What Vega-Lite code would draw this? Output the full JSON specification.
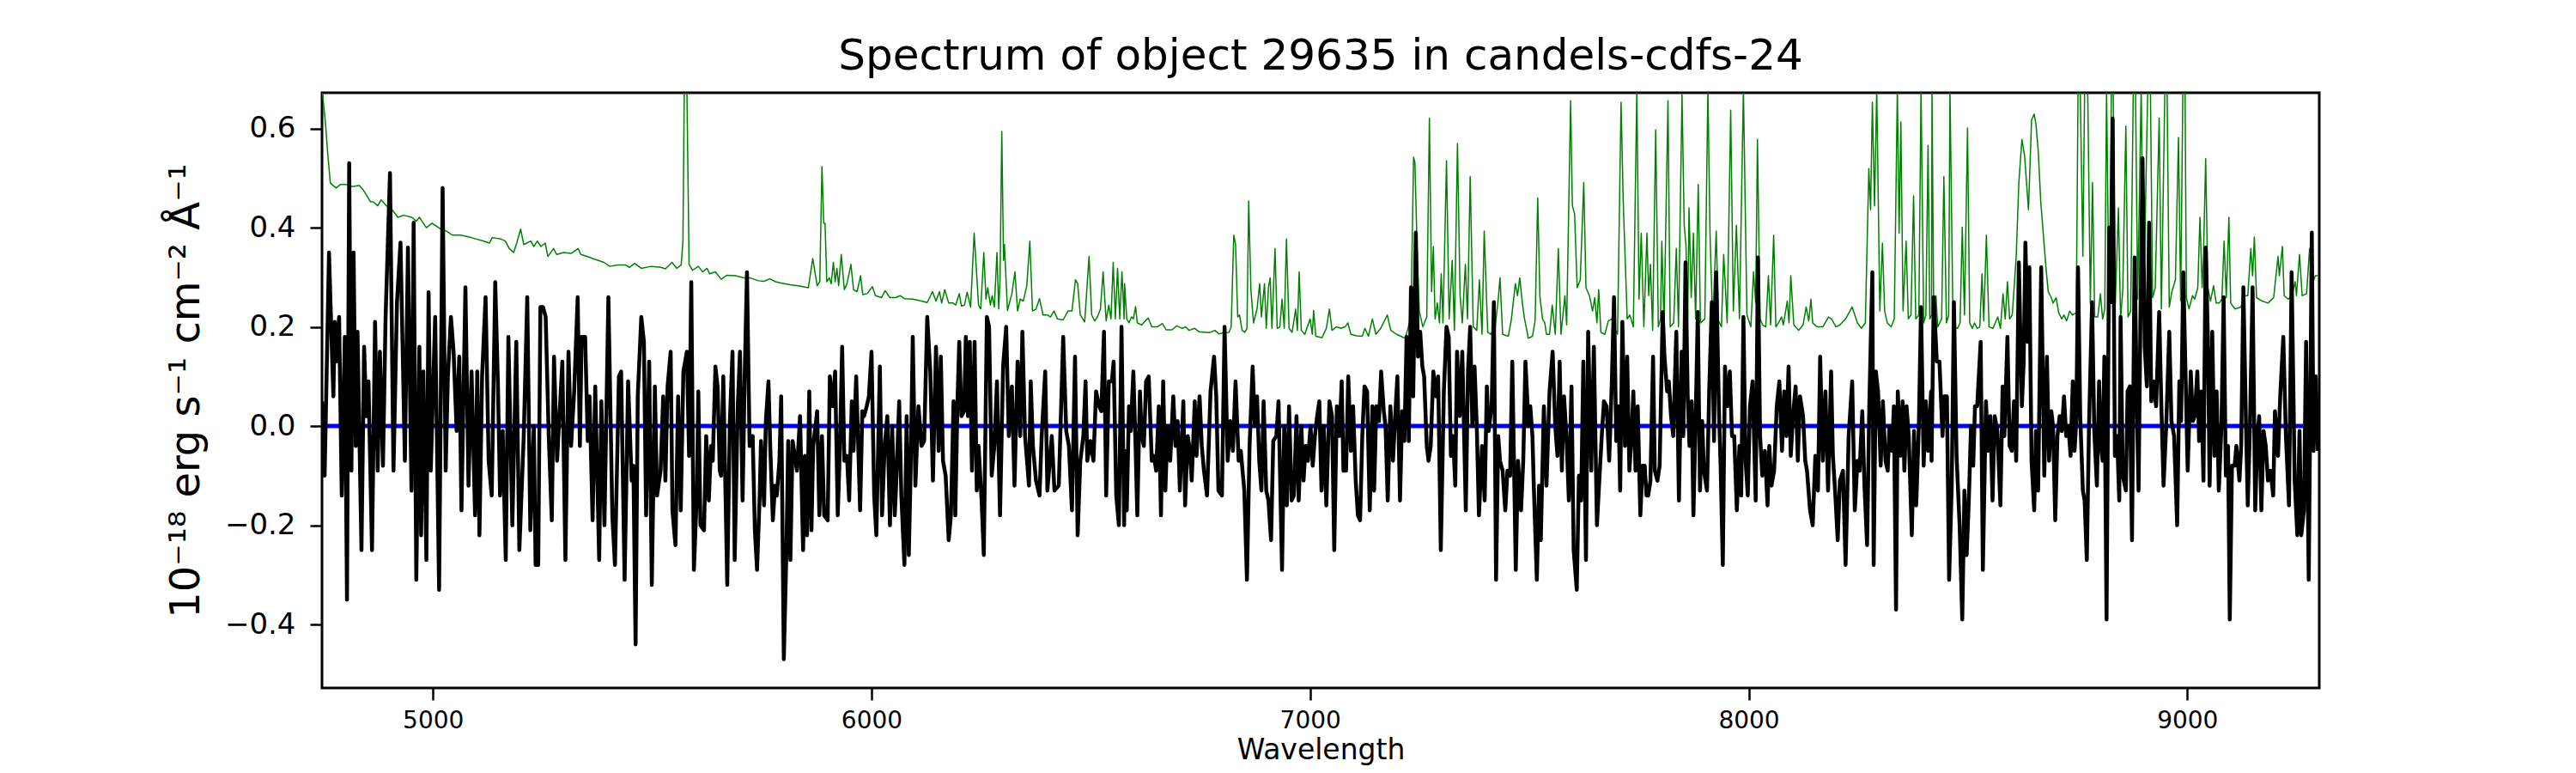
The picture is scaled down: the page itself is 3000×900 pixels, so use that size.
{
  "$schema": "https://vega.github.io/schema/vega-lite/v6.json",
  "width": 2326,
  "height": 693,
  "autosize": "none",
  "padding": {"left": 375, "top": 108, "right": 299, "bottom": 99},
  "background": "white",
  "title": {
    "text": "Spectrum of object 29635 in candels-cdfs-24",
    "fontSize": 50,
    "fontWeight": "normal",
    "font": "DejaVu Sans",
    "color": "black",
    "baseline": "alphabetic",
    "offset": -23
  },
  "datasets": {
    "zero": [{"w": 4747, "f": 0}, {"w": 9264, "f": 0}],
    "model": [
      {"w":4747,"f":0.68},{"w":4755,"f":0.61},{"w":4760,"f":0.55},{"w":4766,"f":0.49},{"w":4779,"f":0.48},{"w":4789,"f":0.487},{"w":4802,"f":0.487},{"w":4815,"f":0.483},{"w":4832,"f":0.485},{"w":4841,"f":0.476},{"w":4858,"f":0.452},{"w":4864,"f":0.452},{"w":4874,"f":0.444},{"w":4882,"f":0.456},{"w":4894,"f":0.444},{"w":4907,"f":0.436},{"w":4920,"f":0.421},{"w":4933,"f":0.425},{"w":4952,"f":0.421},{"w":4962,"f":0.413},{"w":4969,"f":0.421},{"w":4985,"f":0.40},{"w":4998,"f":0.409},{"w":5018,"f":0.397},{"w":5031,"f":0.393},{"w":5044,"f":0.385},{"w":5063,"f":0.385},{"w":5083,"f":0.381},{"w":5099,"f":0.377},{"w":5116,"f":0.373},{"w":5129,"f":0.369},{"w":5135,"f":0.38},{"w":5155,"f":0.377},{"w":5165,"f":0.373},{"w":5174,"f":0.358},{"w":5184,"f":0.35},{"w":5191,"f":0.369},{"w":5200,"f":0.397},{"w":5207,"f":0.366},{"w":5223,"f":0.373},{"w":5230,"f":0.362},{"w":5238,"f":0.373},{"w":5246,"f":0.362},{"w":5256,"f":0.369},{"w":5262,"f":0.342},{"w":5275,"f":0.358},{"w":5282,"f":0.346},{"w":5298,"f":0.35},{"w":5315,"f":0.348},{"w":5331,"f":0.358},{"w":5337,"f":0.346},{"w":5351,"f":0.342},{"w":5370,"f":0.336},{"w":5390,"f":0.33},{"w":5403,"f":0.322},{"w":5422,"f":0.325},{"w":5439,"f":0.325},{"w":5448,"f":0.32},{"w":5460,"f":0.328},{"w":5475,"f":0.318},{"w":5497,"f":0.322},{"w":5520,"f":0.32},{"w":5530,"f":0.317},{"w":5545,"f":0.33},{"w":5556,"f":0.318},{"w":5566,"f":0.325},{"w":5570,"f":0.373},{"w":5573,"f":0.68},{"w":5579,"f":0.68},{"w":5584,"f":0.326},{"w":5592,"f":0.314},{"w":5605,"f":0.322},{"w":5615,"f":0.311},{"w":5625,"f":0.318},{"w":5631,"f":0.307},{"w":5644,"f":0.311},{"w":5657,"f":0.296},
      {"w":5670,"f":0.304},{"w":5690,"f":0.303},{"w":5709,"f":0.299},{"w":5722,"f":0.299},{"w":5742,"f":0.293},{"w":5755,"f":0.292},{"w":5768,"f":0.297},{"w":5781,"f":0.291},{"w":5791,"f":0.289},{"w":5814,"f":0.285},{"w":5833,"f":0.283},{"w":5856,"f":0.279},{"w":5866,"f":0.338},{"w":5876,"f":0.283},{"w":5882,"f":0.291},{"w":5887,"f":0.523},{"w":5891,"f":0.409},{"w":5894,"f":0.409},{"w":5898,"f":0.291},{"w":5904,"f":0.299},{"w":5908,"f":0.287},{"w":5913,"f":0.33},{"w":5917,"f":0.291},{"w":5921,"f":0.318},{"w":5925,"f":0.283},{"w":5931,"f":0.346},{"w":5938,"f":0.275},{"w":5944,"f":0.287},{"w":5953,"f":0.326},{"w":5959,"f":0.275},{"w":5967,"f":0.271},{"w":5975,"f":0.303},{"w":5980,"f":0.265},{"w":5990,"f":0.267},{"w":6002,"f":0.281},{"w":6009,"f":0.263},{"w":6023,"f":0.259},{"w":6031,"f":0.273},{"w":6042,"f":0.259},{"w":6055,"f":0.259},{"w":6065,"f":0.263},{"w":6075,"f":0.257},{"w":6094,"f":0.256},{"w":6114,"f":0.252},{"w":6127,"f":0.249},{"w":6139,"f":0.271},{"w":6147,"f":0.252},{"w":6155,"f":0.271},{"w":6160,"f":0.248},{"w":6167,"f":0.275},{"w":6176,"f":0.248},{"w":6186,"f":0.248},{"w":6192,"f":0.244},{"w":6200,"f":0.267},{"w":6205,"f":0.242},{"w":6212,"f":0.244},{"w":6218,"f":0.27},{"w":6226,"f":0.24},{"w":6234,"f":0.389},{"w":6244,"f":0.244},{"w":6249,"f":0.236},{"w":6256,"f":0.35},{"w":6261,"f":0.256},{"w":6265,"f":0.279},{"w":6271,"f":0.244},{"w":6275,"f":0.263},{"w":6280,"f":0.24},{"w":6286,"f":0.35},{"w":6290,"f":0.236},{"w":6293,"f":0.295},{"w":6297,"f":0.594},{"w":6301,"f":0.334},{"w":6303,"f":0.366},{"w":6310,"f":0.233},{"w":6320,"f":0.267},{"w":6327,"f":0.311},{"w":6333,"f":0.232},{"w":6339,"f":0.256},{"w":6346,"f":0.252},{"w":6354,"f":0.283},{"w":6361,"f":0.373},{"w":6367,"f":0.232},{"w":6375,"f":0.236},{"w":6383,"f":0.257},{"w":6391,"f":0.224},{"w":6401,"f":0.224},{"w":6408,"f":0.22},{"w":6416,"f":0.232},{"w":6424,"f":0.216},{"w":6437,"f":0.214},{"w":6448,"f":0.232},{"w":6457,"f":0.232},{"w":6465,"f":0.295},{"w":6470,"f":0.287},{"w":6476,"f":0.224},{"w":6486,"f":0.21},{"w":6496,"f":0.342},{"w":6502,"f":0.224},{"w":6509,"f":0.212},{"w":6515,"f":0.22},{"w":6522,"f":0.236},{"w":6528,"f":0.311},{"w":6535,"f":0.212},{"w":6541,"f":0.244},{"w":6546,"f":0.216},{"w":6551,"f":0.33},{"w":6556,"f":0.216},{"w":6561,"f":0.318},{"w":6566,"f":0.216},{"w":6571,"f":0.311},{"w":6576,"f":0.216},
      {"w":6577,"f":0.287},{"w":6582,"f":0.216},{"w":6587,"f":0.208},{"w":6593,"f":0.22},{"w":6597,"f":0.216},{"w":6602,"f":0.241},{"w":6606,"f":0.208},{"w":6616,"f":0.204},{"w":6624,"f":0.212},{"w":6631,"f":0.218},{"w":6639,"f":0.2},{"w":6652,"f":0.2},{"w":6663,"f":0.207},{"w":6672,"f":0.194},{"w":6685,"f":0.194},{"w":6696,"f":0.202},{"w":6708,"f":0.197},{"w":6716,"f":0.2},{"w":6724,"f":0.193},{"w":6737,"f":0.197},{"w":6747,"f":0.19},{"w":6760,"f":0.189},{"w":6773,"f":0.189},{"w":6783,"f":0.193},{"w":6792,"f":0.186},{"w":6802,"f":0.188},{"w":6815,"f":0.189},{"w":6820,"f":0.2},{"w":6826,"f":0.385},{"w":6830,"f":0.366},{"w":6835,"f":0.22},{"w":6839,"f":0.224},{"w":6845,"f":0.193},{"w":6851,"f":0.189},{"w":6856,"f":0.197},{"w":6860,"f":0.454},{"w":6865,"f":0.275},{"w":6871,"f":0.208},{"w":6879,"f":0.236},{"w":6885,"f":0.287},{"w":6889,"f":0.22},{"w":6896,"f":0.287},{"w":6900,"f":0.197},{"w":6905,"f":0.279},{"w":6909,"f":0.299},{"w":6913,"f":0.197},{"w":6920,"f":0.358},{"w":6925,"f":0.197},{"w":6931,"f":0.2},{"w":6936,"f":0.256},{"w":6941,"f":0.197},{"w":6946,"f":0.377},{"w":6952,"f":0.197},{"w":6959,"f":0.189},{"w":6967,"f":0.236},{"w":6971,"f":0.193},{"w":6975,"f":0.311},{"w":6980,"f":0.193},{"w":6988,"f":0.185},{"w":7000,"f":0.216},{"w":7005,"f":0.185},{"w":7008,"f":0.233},{"w":7013,"f":0.181},{"w":7027,"f":0.178},{"w":7037,"f":0.197},{"w":7044,"f":0.236},{"w":7050,"f":0.193},{"w":7060,"f":0.2},{"w":7070,"f":0.197},{"w":7080,"f":0.2},{"w":7086,"f":0.208},{"w":7093,"f":0.185},{"w":7106,"f":0.182},{"w":7119,"f":0.181},{"w":7125,"f":0.197},{"w":7133,"f":0.181},{"w":7142,"f":0.216},{"w":7150,"f":0.185},{"w":7161,"f":0.197},{"w":7176,"f":0.224},{"w":7184,"f":0.193},{"w":7197,"f":0.185},{"w":7207,"f":0.181},{"w":7217,"f":0.177},{"w":7224,"f":0.2},{"w":7230,"f":0.224},{"w":7236,"f":0.542},{"w":7239,"f":0.531},{"w":7244,"f":0.358},{"w":7249,"f":0.232},{"w":7257,"f":0.2},{"w":7266,"f":0.22},{"w":7272,"f":0.621},{"w":7277,"f":0.271},{"w":7281,"f":0.362},{"w":7285,"f":0.216},{"w":7290,"f":0.248},{"w":7295,"f":0.208},{"w":7299,"f":0.307},{"w":7303,"f":0.208},{"w":7311,"f":0.535},{"w":7317,"f":0.216},{"w":7324,"f":0.334},{"w":7329,"f":0.193},{"w":7336,"f":0.57},{"w":7342,"f":0.263},{"w":7347,"f":0.208},{"w":7354,"f":0.326},{"w":7359,"f":0.216},{"w":7365,"f":0.503},{"w":7372,"f":0.2},{"w":7380,"f":0.193},{"w":7386,"f":0.295},{"w":7392,"f":0.185},{"w":7397,"f":0.393},{"w":7405,"f":0.189},{"w":7412,"f":0.185},{"w":7422,"f":0.2},{"w":7429,"f":0.256},{"w":7433,"f":0.299},{"w":7439,"f":0.185},{"w":7452,"f":0.181},{"w":7459,"f":0.216},{"w":7468,"f":0.287},{"w":7473,"f":0.263},{"w":7478,"f":0.299},{"w":7484,"f":0.248},{"w":7489,"f":0.216},{"w":7496,"f":0.185},
      {"w":7497,"f":0.177},{"w":7507,"f":0.181},{"w":7513,"f":0.212},{"w":7519,"f":0.46},{"w":7524,"f":0.261},{"w":7530,"f":0.216},{"w":7535,"f":0.208},{"w":7539,"f":0.185},{"w":7546,"f":0.185},{"w":7552,"f":0.244},{"w":7559,"f":0.185},{"w":7566,"f":0.358},{"w":7572,"f":0.185},{"w":7581,"f":0.263},{"w":7585,"f":0.204},{"w":7594,"f":0.656},{"w":7598,"f":0.444},{"w":7603,"f":0.428},{"w":7609,"f":0.279},{"w":7616,"f":0.295},{"w":7624,"f":0.491},{"w":7629,"f":0.279},{"w":7637,"f":0.263},{"w":7644,"f":0.232},{"w":7649,"f":0.259},{"w":7654,"f":0.208},{"w":7658,"f":0.275},{"w":7663,"f":0.189},{"w":7672,"f":0.185},{"w":7680,"f":0.212},{"w":7688,"f":0.216},{"w":7693,"f":0.2},{"w":7701,"f":0.185},{"w":7709,"f":0.653},{"w":7714,"f":0.452},{"w":7719,"f":0.322},{"w":7723,"f":0.216},{"w":7729,"f":0.224},{"w":7737,"f":0.2},{"w":7745,"f":0.68},{"w":7750,"f":0.256},{"w":7755,"f":0.389},{"w":7761,"f":0.2},{"w":7768,"f":0.389},{"w":7772,"f":0.263},{"w":7776,"f":0.326},{"w":7781,"f":0.193},{"w":7788,"f":0.597},{"w":7794,"f":0.2},{"w":7799,"f":0.216},{"w":7802,"f":0.373},{"w":7807,"f":0.2},{"w":7816,"f":0.656},{"w":7821,"f":0.2},{"w":7829,"f":0.208},{"w":7835,"f":0.358},{"w":7840,"f":0.2},{"w":7848,"f":0.668},{"w":7853,"f":0.405},{"w":7857,"f":0.366},{"w":7861,"f":0.216},{"w":7864,"f":0.44},{"w":7869,"f":0.259},{"w":7874,"f":0.389},{"w":7879,"f":0.216},{"w":7885,"f":0.487},{"w":7890,"f":0.208},{"w":7900,"f":0.216},{"w":7907,"f":0.68},{"w":7912,"f":0.381},{"w":7918,"f":0.208},{"w":7926,"f":0.393},{"w":7931,"f":0.212},{"w":7938,"f":0.2},{"w":7943,"f":0.346},{"w":7951,"f":0.208},{"w":7959,"f":0.637},{"w":7965,"f":0.232},{"w":7972,"f":0.405},{"w":7979,"f":0.216},{"w":7988,"f":0.68},{"w":7996,"f":0.224},{"w":8005,"f":0.2},{"w":8011,"f":0.311},{"w":8016,"f":0.248},{"w":8020,"f":0.578},{"w":8026,"f":0.216},{"w":8032,"f":0.204},{"w":8039,"f":0.2},{"w":8045,"f":0.303},{"w":8050,"f":0.204},{"w":8057,"f":0.385},{"w":8062,"f":0.2},{"w":8068,"f":0.208},{"w":8075,"f":0.22},{"w":8079,"f":0.204},{"w":8088,"f":0.252},{"w":8092,"f":0.208},{"w":8096,"f":0.303},{"w":8103,"f":0.204},{"w":8114,"f":0.193},{"w":8124,"f":0.204},{"w":8131,"f":0.24},{"w":8137,"f":0.212},{"w":8142,"f":0.256},{"w":8146,"f":0.208},{"w":8156,"f":0.2},{"w":8169,"f":0.2},{"w":8182,"f":0.22},{"w":8189,"f":0.216},{"w":8199,"f":0.2},{"w":8208,"f":0.204},{"w":8221,"f":0.216},{"w":8236,"f":0.24},{"w":8248,"f":0.208},{"w":8257,"f":0.197},{"w":8266,"f":0.208},{"w":8274,"f":0.519},{"w":8278,"f":0.436},{"w":8282,"f":0.653},{"w":8287,"f":0.444},{"w":8292,"f":0.68},{"w":8299,"f":0.232},{"w":8305,"f":0.369},{"w":8310,"f":0.232},{"w":8316,"f":0.208},{"w":8325,"f":0.2},{"w":8332,"f":0.216},{"w":8339,"f":0.68},{"w":8343,"f":0.389},{"w":8347,"f":0.613},{"w":8352,"f":0.232},{"w":8359,"f":0.373},{"w":8364,"f":0.216},{"w":8370,"f":0.224},{"w":8376,"f":0.464},{"w":8381,"f":0.216},{"w":8388,"f":0.224},{"w":8393,"f":0.68},{"w":8399,"f":0.208},{"w":8404,"f":0.224},{"w":8409,"f":0.566},{"w":8413,"f":0.216},{"w":8417,"f":0.224},
      {"w":8418,"f":0.68},{"w":8422,"f":0.216},{"w":8427,"f":0.263},{"w":8431,"f":0.2},{"w":8440,"f":0.216},{"w":8445,"f":0.503},{"w":8451,"f":0.208},{"w":8456,"f":0.224},{"w":8459,"f":0.68},{"w":8466,"f":0.2},{"w":8476,"f":0.197},{"w":8482,"f":0.208},{"w":8487,"f":0.401},{"w":8492,"f":0.224},{"w":8499,"f":0.601},{"w":8504,"f":0.208},{"w":8510,"f":0.197},{"w":8515,"f":0.208},{"w":8521,"f":0.197},{"w":8527,"f":0.2},{"w":8532,"f":0.307},{"w":8536,"f":0.212},{"w":8542,"f":0.385},{"w":8548,"f":0.2},{"w":8557,"f":0.197},{"w":8568,"f":0.22},{"w":8574,"f":0.197},{"w":8580,"f":0.267},{"w":8585,"f":0.216},{"w":8590,"f":0.291},{"w":8595,"f":0.216},{"w":8601,"f":0.224},{"w":8610,"f":0.342},{"w":8616,"f":0.491},{"w":8623,"f":0.578},{"w":8629,"f":0.546},{"w":8638,"f":0.436},{"w":8645,"f":0.617},{"w":8651,"f":0.629},{"w":8655,"f":0.609},{"w":8660,"f":0.558},{"w":8666,"f":0.452},{"w":8673,"f":0.373},{"w":8678,"f":0.318},{"w":8683,"f":0.271},{"w":8690,"f":0.259},{"w":8694,"f":0.248},{"w":8701,"f":0.259},{"w":8707,"f":0.228},{"w":8714,"f":0.216},{"w":8719,"f":0.224},{"w":8725,"f":0.212},{"w":8732,"f":0.232},{"w":8738,"f":0.224},{"w":8747,"f":0.228},{"w":8751,"f":0.68},{"w":8756,"f":0.68},{"w":8762,"f":0.342},{"w":8766,"f":0.68},{"w":8773,"f":0.68},{"w":8779,"f":0.248},{"w":8784,"f":0.491},{"w":8789,"f":0.22},{"w":8796,"f":0.22},{"w":8802,"f":0.267},{"w":8807,"f":0.216},{"w":8812,"f":0.236},{"w":8816,"f":0.68},{"w":8822,"f":0.216},{"w":8827,"f":0.68},{"w":8831,"f":0.68},{"w":8836,"f":0.248},{"w":8843,"f":0.44},{"w":8848,"f":0.216},{"w":8853,"f":0.275},{"w":8860,"f":0.605},{"w":8865,"f":0.22},{"w":8871,"f":0.232},{"w":8877,"f":0.68},{"w":8882,"f":0.68},{"w":8887,"f":0.256},{"w":8895,"f":0.68},{"w":8900,"f":0.279},{"w":8903,"f":0.358},{"w":8910,"f":0.68},{"w":8916,"f":0.68},{"w":8921,"f":0.259},{"w":8927,"f":0.279},{"w":8936,"f":0.621},{"w":8941,"f":0.236},{"w":8949,"f":0.68},{"w":8954,"f":0.68},{"w":8959,"f":0.24},{"w":8965,"f":0.271},{"w":8973,"f":0.295},{"w":8980,"f":0.582},{"w":8985,"f":0.252},{"w":8990,"f":0.68},{"w":8995,"f":0.68},{"w":8998,"f":0.259},{"w":9004,"f":0.236},{"w":9012,"f":0.263},{"w":9017,"f":0.256},{"w":9024,"f":0.279},{"w":9029,"f":0.421},{"w":9034,"f":0.279},{"w":9037,"f":0.342},{"w":9042,"f":0.539},{"w":9047,"f":0.279},{"w":9053,"f":0.252},{"w":9060,"f":0.283},{"w":9066,"f":0.248},{"w":9073,"f":0.248},{"w":9079,"f":0.256},{"w":9084,"f":0.373},{"w":9089,"f":0.259},{"w":9095,"f":0.421},{"w":9099,"f":0.248},{"w":9109,"f":0.236},{"w":9122,"f":0.24},{"w":9132,"f":0.263},{"w":9138,"f":0.263},{"w":9145,"f":0.358},{"w":9149,"f":0.303},{"w":9153,"f":0.381},{"w":9158,"f":0.259},{"w":9171,"f":0.252},{"w":9184,"f":0.248},{"w":9197,"f":0.259},{"w":9207,"f":0.342},{"w":9210,"f":0.303},{"w":9217,"f":0.362},{"w":9221,"f":0.263},{"w":9230,"f":0.256},{"w":9239,"f":0.263},{"w":9246,"f":0.291},{"w":9249,"f":0.263},{"w":9256,"f":0.346},{"w":9262,"f":0.263},{"w":9272,"f":0.267},{"w":9279,"f":0.358},{"w":9284,"f":0.283},{"w":9292,"f":0.303},{"w":9298,"f":0.303}
    ],
    "spec": [
      {"w":4747,"f":0.05},{"w":4753,"f":-0.10},{"w":4763,"f":0.35},{"w":4770,"f":0.14},{"w":4773,"f":0.06},{"w":4776,"f":0.21},{"w":4779,"f":0.13},{"w":4786,"f":0.22},{"w":4792,"f":-0.14},{"w":4799,"f":0.18},{"w":4804,"f":-0.35},{"w":4809,"f":0.53},{"w":4814,"f":-0.09},{"w":4819,"f":0.35},{"w":4824,"f":-0.04},{"w":4828,"f":0.19},{"w":4837,"f":-0.25},{"w":4843,"f":0.16},{"w":4848,"f":0.02},{"w":4853,"f":0.09},{"w":4861,"f":-0.25},{"w":4868,"f":0.21},{"w":4874,"f":-0.09},{"w":4879,"f":0.15},{"w":4886,"f":-0.08},{"w":4892,"f":0.22},{"w":4902,"f":0.51},{"w":4910,"f":-0.09},{"w":4918,"f":0.25},{"w":4926,"f":0.37},{"w":4936,"f":-0.07},{"w":4943,"f":0.36},{"w":4951,"f":-0.13},{"w":4956,"f":0.41},{"w":4962,"f":-0.31},{"w":4969,"f":0.16},{"w":4973,"f":-0.22},{"w":4978,"f":0.11},{"w":4985,"f":-0.27},{"w":4990,"f":0.27},{"w":4995,"f":-0.09},{"w":5005,"f":0.22},{"w":5014,"f":-0.33},{"w":5022,"f":0.48},{"w":5029,"f":-0.09},{"w":5034,"f":0.10},{"w":5041,"f":0.22},{"w":5047,"f":0.15},{"w":5054,"f":-0.01},{"w":5060,"f":0.14},{"w":5065,"f":-0.17},{"w":5074,"f":0.28},{"w":5081,"f":-0.12},{"w":5088,"f":0.11},{"w":5096,"f":-0.18},{"w":5101,"f":0.11},{"w":5106,"f":-0.22},{"w":5112,"f":0.10},{"w":5120,"f":0.26},{"w":5127,"f":-0.07},{"w":5134,"f":-0.14},{"w":5142,"f":0.29},{"w":5148,"f":0.09},{"w":5153,"f":-0.14},{"w":5159,"f":-0.01},{"w":5166,"f":-0.27},{"w":5172,"f":0.18},{"w":5181,"f":-0.20},{"w":5190,"f":0.17},{"w":5197,"f":-0.25},{"w":5207,"f":-0.02},{"w":5215,"f":0.26},{"w":5222,"f":-0.21},{"w":5230,"f":0.00},{"w":5234,"f":-0.28},{"w":5240,"f":-0.28},{"w":5245,"f":0.24},{"w":5251,"f":0.24},{"w":5257,"f":0.22},{"w":5264,"f":-0.02},{"w":5271,"f":-0.19},{"w":5276,"f":0.14},{"w":5283,"f":-0.07},{"w":5295,"f":0.13},{"w":5302,"f":-0.27},{"w":5309,"f":0.15},{"w":5315,"f":-0.04},{"w":5322,"f":0.07},{"w":5330,"f":0.26},{"w":5335,"f":-0.04},{"w":5339,"f":0.18},{"w":5347,"f":0.18},{"w":5353,"f":-0.03},{"w":5357,"f":0.06},{"w":5364,"f":-0.19},{"w":5370,"f":0.08},{"w":5379,"f":-0.27},{"w":5384,"f":0.05},{"w":5391,"f":-0.20},{"w":5400,"f":0.26},{"w":5409,"f":-0.18},{"w":5415,"f":-0.28},{"w":5424,"f":0.10},{"w":5429,"f":0.11},{"w":5437,"f":-0.31},{"w":5445,"f":0.09},{"w":5453,"f":-0.11},{"w":5457,"f":-0.08},{"w":5462,"f":-0.44},{"w":5467,"f":0.06},{"w":5475,"f":0.22},{"w":5481,"f":0.17},{"w":5486,"f":-0.18},{"w":5493,"f":0.13},{"w":5499,"f":-0.32},{"w":5506,"f":0.08},{"w":5511,"f":-0.14},{"w":5519,"f":-0.09},{"w":5525,"f":0.06},{"w":5530,"f":-0.11},{"w":5535,"f":0.08},{"w":5542,"f":0.15},{"w":5546,"f":-0.17},{"w":5553,"f":-0.24},{"w":5559,"f":0.06},{"w":5565,"f":-0.17},{"w":5571,"f":0.11},{"w":5579,"f":0.15},{"w":5584,"f":-0.06},{"w":5589,"f":0.29},{"w":5595,"f":-0.29},{"w":5602,"f":-0.13},{"w":5605,"f":0.07},{"w":5610,"f":-0.20},{"w":5618,"f":-0.21},{"w":5623,"f":-0.02},{"w":5629,"f":-0.15},{"w":5634,"f":-0.04},{"w":5638,"f":-0.07},{"w":5644,"f":0.12},{"w":5649,"f":0.08},{"w":5654,"f":-0.09},
      {"w":5657,"f":-0.10},{"w":5662,"f":0.10},{"w":5671,"f":-0.32},{"w":5677,"f":0.01},{"w":5683,"f":0.15},{"w":5688,"f":-0.27},{"w":5695,"f":0.04},{"w":5700,"f":0.15},{"w":5706,"f":-0.15},{"w":5711,"f":0.11},{"w":5716,"f":0.31},{"w":5722,"f":-0.04},{"w":5729,"f":-0.02},{"w":5734,"f":-0.21},{"w":5739,"f":-0.29},{"w":5745,"f":-0.14},{"w":5748,"f":-0.03},{"w":5755,"f":-0.16},{"w":5759,"f":0.01},{"w":5765,"f":0.09},{"w":5769,"f":-0.04},{"w":5775,"f":-0.19},{"w":5780,"f":-0.12},{"w":5784,"f":-0.14},{"w":5790,"f":-0.07},{"w":5794,"f":0.06},{"w":5800,"f":-0.47},{"w":5806,"f":-0.25},{"w":5810,"f":-0.03},{"w":5815,"f":-0.27},{"w":5820,"f":-0.03},{"w":5825,"f":-0.06},{"w":5830,"f":-0.09},{"w":5837,"f":0.02},{"w":5844,"f":-0.25},{"w":5848,"f":-0.06},{"w":5853,"f":-0.22},{"w":5858,"f":0.07},{"w":5863,"f":-0.21},{"w":5867,"f":-0.04},{"w":5876,"f":0.03},{"w":5881,"f":-0.18},{"w":5887,"f":-0.02},{"w":5892,"f":-0.18},{"w":5900,"f":-0.19},{"w":5905,"f":0.10},{"w":5912,"f":0.04},{"w":5917,"f":0.11},{"w":5923,"f":-0.18},{"w":5928,"f":-0.04},{"w":5933,"f":0.16},{"w":5938,"f":-0.07},{"w":5944,"f":-0.06},{"w":5949,"f":-0.15},{"w":5955,"f":0.05},{"w":5959,"f":-0.05},{"w":5965,"f":0.10},{"w":5974,"f":-0.17},{"w":5979,"f":0.03},{"w":5983,"f":0.02},{"w":5989,"f":0.04},{"w":5994,"f":0.06},{"w":6000,"f":0.15},{"w":6006,"f":-0.14},{"w":6011,"f":-0.22},{"w":6019,"f":0.12},{"w":6024,"f":-0.18},{"w":6030,"f":-0.04},{"w":6036,"f":0.02},{"w":6042,"f":-0.20},{"w":6047,"f":0.00},{"w":6053,"f":-0.18},{"w":6057,"f":-0.10},{"w":6063,"f":0.05},{"w":6068,"f":-0.14},{"w":6075,"f":-0.28},{"w":6080,"f":0.02},{"w":6085,"f":-0.26},{"w":6089,"f":-0.10},{"w":6094,"f":0.18},{"w":6100,"f":-0.12},{"w":6107,"f":0.04},{"w":6114,"f":-0.04},{"w":6120,"f":-0.03},{"w":6127,"f":0.22},{"w":6134,"f":0.11},{"w":6140,"f":-0.11},{"w":6147,"f":0.16},{"w":6153,"f":-0.05},{"w":6158,"f":0.14},{"w":6163,"f":-0.07},{"w":6169,"f":-0.10},{"w":6176,"f":-0.23},{"w":6181,"f":-0.18},{"w":6187,"f":0.05},{"w":6191,"f":-0.18},{"w":6196,"f":0.05},{"w":6200,"f":0.17},{"w":6205,"f":0.02},{"w":6211,"f":0.03},{"w":6215,"f":0.18},{"w":6220,"f":0.02},{"w":6224,"f":0.17},{"w":6229,"f":-0.09},{"w":6235,"f":0.17},{"w":6240,"f":-0.13},{"w":6244,"f":-0.04},{"w":6251,"f":-0.15},{"w":6256,"f":-0.26},{"w":6263,"f":0.22},{"w":6268,"f":0.20},{"w":6274,"f":-0.10},{"w":6280,"f":-0.04},{"w":6286,"f":0.09},{"w":6293,"f":-0.18},{"w":6300,"f":0.12},{"w":6307,"f":0.20},{"w":6313,"f":-0.02},{"w":6320,"f":0.08},{"w":6326,"f":-0.12},{"w":6333,"f":0.13},{"w":6339,"f":-0.02},{"w":6344,"f":0.19},{"w":6350,"f":-0.02},{"w":6359,"f":-0.12},{"w":6363,"f":0.09},{"w":6368,"f":-0.04},{"w":6375,"f":-0.11},{"w":6383,"f":-0.14},{"w":6388,"f":-0.02},{"w":6396,"f":0.11},{"w":6401,"f":-0.13},{"w":6411,"f":-0.02},{"w":6417,"f":-0.13},{"w":6427,"f":-0.12},{"w":6437,"f":0.18},{"w":6444,"f":-0.01},{"w":6450,"f":-0.04},{"w":6457,"f":-0.17},{"w":6464,"f":0.14},{"w":6470,"f":-0.22},{"w":6476,"f":-0.07},{"w":6483,"f":-0.02},{"w":6488,"f":0.09},{"w":6492,"f":-0.07},{"w":6499,"f":-0.03},{"w":6506,"f":-0.07},{"w":6512,"f":0.07},{"w":6519,"f":0.04},{"w":6524,"f":0.03},{"w":6530,"f":0.19},{"w":6535,"f":-0.14},{"w":6541,"f":0.09},{"w":6548,"f":0.09},{"w":6552,"f":0.13},{"w":6558,"f":-0.14},{"w":6564,"f":-0.20},{"w":6570,"f":0.20},{"w":6576,"f":-0.20},
      {"w":6577,"f":-0.05},{"w":6582,"f":-0.17},{"w":6587,"f":0.04},{"w":6591,"f":-0.01},{"w":6597,"f":0.11},{"w":6602,"f":-0.04},{"w":6606,"f":-0.18},{"w":6612,"f":0.07},{"w":6616,"f":-0.02},{"w":6621,"f":-0.04},{"w":6626,"f":0.09},{"w":6632,"f":0.10},{"w":6639,"f":-0.07},{"w":6644,"f":-0.06},{"w":6649,"f":-0.09},{"w":6655,"f":0.04},{"w":6660,"f":-0.18},{"w":6665,"f":0.09},{"w":6670,"f":-0.13},{"w":6675,"f":0.00},{"w":6681,"f":-0.07},{"w":6688,"f":0.06},{"w":6693,"f":-0.04},{"w":6698,"f":0.01},{"w":6703,"f":-0.13},{"w":6711,"f":0.05},{"w":6715,"f":-0.16},{"w":6721,"f":-0.02},{"w":6726,"f":-0.05},{"w":6730,"f":-0.11},{"w":6737,"f":0.05},{"w":6741,"f":-0.06},{"w":6748,"f":0.06},{"w":6753,"f":-0.04},{"w":6758,"f":-0.09},{"w":6765,"f":-0.14},{"w":6773,"f":0.07},{"w":6781,"f":0.14},{"w":6786,"f":0.06},{"w":6791,"f":-0.13},{"w":6799,"f":-0.14},{"w":6805,"f":0.20},{"w":6812,"f":-0.07},{"w":6818,"f":0.01},{"w":6824,"f":-0.05},{"w":6830,"f":0.09},{"w":6837,"f":-0.07},{"w":6842,"f":-0.05},{"w":6850,"f":-0.13},{"w":6856,"f":-0.31},{"w":6862,"f":-0.04},{"w":6869,"f":0.12},{"w":6874,"f":0.00},{"w":6879,"f":0.06},{"w":6884,"f":-0.07},{"w":6889,"f":-0.13},{"w":6894,"f":0.05},{"w":6900,"f":-0.13},{"w":6905,"f":-0.15},{"w":6911,"f":-0.23},{"w":6916,"f":-0.03},{"w":6923,"f":-0.02},{"w":6928,"f":0.05},{"w":6936,"f":-0.29},{"w":6941,"f":0.00},{"w":6947,"f":-0.16},{"w":6952,"f":0.04},{"w":6958,"f":-0.15},{"w":6963,"f":-0.14},{"w":6969,"f":0.02},{"w":6974,"f":-0.15},{"w":6980,"f":0.00},{"w":6985,"f":-0.11},{"w":6990,"f":-0.04},{"w":6995,"f":-0.07},{"w":7001,"f":0.00},{"w":7006,"f":-0.08},{"w":7011,"f":-0.02},{"w":7016,"f":0.02},{"w":7021,"f":0.05},{"w":7026,"f":-0.13},{"w":7031,"f":0.00},{"w":7037,"f":-0.16},{"w":7044,"f":0.05},{"w":7050,"f":0.02},{"w":7055,"f":-0.25},{"w":7061,"f":0.04},{"w":7067,"f":-0.02},{"w":7072,"f":0.09},{"w":7076,"f":-0.09},{"w":7082,"f":-0.09},{"w":7087,"f":0.10},{"w":7093,"f":-0.05},{"w":7098,"f":0.04},{"w":7104,"f":-0.11},{"w":7109,"f":-0.18},{"w":7114,"f":-0.19},{"w":7119,"f":-0.02},{"w":7124,"f":0.08},{"w":7130,"f":0.07},{"w":7136,"f":-0.17},{"w":7142,"f":0.04},{"w":7146,"f":-0.13},{"w":7151,"f":0.04},{"w":7157,"f":0.01},{"w":7162,"f":0.11},{"w":7168,"f":0.03},{"w":7172,"f":0.00},{"w":7177,"f":-0.15},{"w":7183,"f":0.04},{"w":7189,"f":-0.07},{"w":7194,"f":0.02},{"w":7199,"f":0.10},{"w":7205,"f":-0.15},{"w":7210,"f":0.03},{"w":7215,"f":-0.03},{"w":7220,"f":0.18},{"w":7225,"f":-0.03},{"w":7230,"f":0.28},{"w":7235,"f":0.06},{"w":7241,"f":0.39},{"w":7246,"f":0.14},{"w":7251,"f":0.19},{"w":7256,"f":0.12},{"w":7260,"f":0.10},{"w":7266,"f":-0.04},{"w":7270,"f":-0.07},{"w":7275,"f":-0.04},{"w":7281,"f":0.11},{"w":7287,"f":0.06},{"w":7292,"f":0.10},{"w":7298,"f":-0.25},{"w":7305,"f":0.07},{"w":7311,"f":0.20},{"w":7316,"f":0.18},{"w":7321,"f":-0.06},{"w":7326,"f":-0.02},{"w":7331,"f":-0.12},{"w":7335,"f":0.15},{"w":7341,"f":0.02},{"w":7347,"f":0.15},{"w":7355,"f":-0.17},{"w":7360,"f":0.11},{"w":7365,"f":0.20},{"w":7370,"f":0.00},{"w":7375,"f":0.12},{"w":7380,"f":0.00},{"w":7385,"f":-0.18},{"w":7392,"f":-0.04},{"w":7398,"f":-0.15},{"w":7403,"f":0.08},{"w":7407,"f":-0.01},{"w":7414,"f":0.04},{"w":7419,"f":0.25},{"w":7424,"f":-0.31},{"w":7429,"f":-0.02},{"w":7433,"f":-0.07},{"w":7439,"f":-0.09},{"w":7445,"f":-0.17},{"w":7450,"f":-0.09},{"w":7456,"f":-0.10},{"w":7461,"f":0.13},{"w":7469,"f":-0.29},{"w":7474,"f":-0.07},{"w":7481,"f":-0.17},{"w":7486,"f":-0.07},{"w":7491,"f":0.13},{"w":7496,"f":0.04},
      {"w":7497,"f":0.00},{"w":7502,"f":0.04},{"w":7507,"f":-0.02},{"w":7510,"f":-0.12},{"w":7517,"f":-0.31},{"w":7522,"f":-0.12},{"w":7526,"f":-0.23},{"w":7533,"f":0.04},{"w":7539,"f":-0.12},{"w":7546,"f":0.07},{"w":7553,"f":0.15},{"w":7559,"f":0.00},{"w":7564,"f":-0.06},{"w":7569,"f":0.13},{"w":7574,"f":-0.09},{"w":7579,"f":0.06},{"w":7585,"f":-0.03},{"w":7590,"f":-0.15},{"w":7596,"f":0.08},{"w":7601,"f":-0.25},{"w":7608,"f":-0.33},{"w":7613,"f":-0.10},{"w":7618,"f":-0.15},{"w":7623,"f":0.13},{"w":7629,"f":-0.27},{"w":7634,"f":0.19},{"w":7641,"f":-0.09},{"w":7647,"f":0.16},{"w":7654,"f":-0.20},{"w":7660,"f":-0.10},{"w":7665,"f":-0.02},{"w":7670,"f":0.05},{"w":7676,"f":0.04},{"w":7682,"f":-0.07},{"w":7688,"f":0.09},{"w":7693,"f":0.26},{"w":7698,"f":-0.03},{"w":7703,"f":0.04},{"w":7707,"f":-0.13},{"w":7712,"f":0.21},{"w":7718,"f":-0.04},{"w":7723,"f":0.14},{"w":7728,"f":-0.09},{"w":7733,"f":-0.02},{"w":7737,"f":0.07},{"w":7742,"f":-0.09},{"w":7747,"f":0.04},{"w":7753,"f":-0.18},{"w":7758,"f":-0.08},{"w":7763,"f":-0.08},{"w":7767,"f":-0.14},{"w":7771,"f":-0.14},{"w":7776,"f":-0.11},{"w":7782,"f":0.14},{"w":7786,"f":-0.09},{"w":7792,"f":-0.11},{"w":7797,"f":-0.08},{"w":7804,"f":0.23},{"w":7808,"f":0.14},{"w":7814,"f":0.07},{"w":7818,"f":0.09},{"w":7823,"f":0.02},{"w":7828,"f":-0.02},{"w":7835,"f":0.19},{"w":7841,"f":-0.15},{"w":7847,"f":0.15},{"w":7851,"f":-0.02},{"w":7856,"f":0.33},{"w":7861,"f":0.06},{"w":7865,"f":-0.04},{"w":7870,"f":0.05},{"w":7874,"f":-0.18},{"w":7879,"f":0.01},{"w":7884,"f":0.23},{"w":7889,"f":-0.13},{"w":7894,"f":0.01},{"w":7898,"f":-0.09},{"w":7905,"f":-0.13},{"w":7910,"f":0.07},{"w":7916,"f":0.25},{"w":7921,"f":-0.03},{"w":7926,"f":0.31},{"w":7932,"f":0.04},{"w":7936,"f":-0.08},{"w":7941,"f":-0.28},{"w":7946,"f":0.12},{"w":7951,"f":0.04},{"w":7957,"f":0.11},{"w":7962,"f":-0.02},{"w":7967,"f":-0.02},{"w":7973,"f":-0.17},{"w":7979,"f":-0.04},{"w":7983,"f":-0.14},{"w":7988,"f":0.22},{"w":7993,"f":-0.07},{"w":7998,"f":-0.14},{"w":8003,"f":0.04},{"w":8009,"f":0.09},{"w":8016,"f":-0.15},{"w":8021,"f":0.34},{"w":8026,"f":-0.02},{"w":8031,"f":-0.10},{"w":8037,"f":-0.05},{"w":8043,"f":-0.16},{"w":8047,"f":-0.04},{"w":8052,"f":-0.12},{"w":8058,"f":-0.09},{"w":8064,"f":0.04},{"w":8070,"f":0.09},{"w":8076,"f":-0.05},{"w":8081,"f":0.07},{"w":8086,"f":-0.02},{"w":8091,"f":0.12},{"w":8096,"f":-0.06},{"w":8101,"f":0.02},{"w":8107,"f":0.08},{"w":8112,"f":-0.07},{"w":8117,"f":0.06},{"w":8124,"f":0.02},{"w":8129,"f":-0.07},{"w":8133,"f":-0.09},{"w":8140,"f":-0.17},{"w":8146,"f":-0.20},{"w":8152,"f":-0.06},{"w":8158,"f":-0.13},{"w":8163,"f":0.14},{"w":8169,"f":-0.07},{"w":8175,"f":0.07},{"w":8181,"f":-0.13},{"w":8188,"f":0.11},{"w":8192,"f":-0.06},{"w":8197,"f":-0.13},{"w":8203,"f":-0.23},{"w":8208,"f":-0.11},{"w":8215,"f":-0.09},{"w":8221,"f":-0.28},{"w":8228,"f":-0.02},{"w":8236,"f":0.09},{"w":8242,"f":-0.17},{"w":8248,"f":-0.07},{"w":8253,"f":-0.09},{"w":8259,"f":0.03},{"w":8264,"f":-0.12},{"w":8270,"f":-0.24},{"w":8275,"f":0.04},{"w":8282,"f":0.31},{"w":8285,"f":-0.28},{"w":8290,"f":0.11},{"w":8295,"f":0.07},{"w":8301,"f":-0.08},{"w":8306,"f":0.05},{"w":8312,"f":-0.07},{"w":8317,"f":-0.09},{"w":8321,"f":0.00},{"w":8327,"f":-0.05},{"w":8331,"f":0.04},{"w":8336,"f":-0.37},{"w":8340,"f":0.07},{"w":8346,"f":-0.06},{"w":8351,"f":0.05},{"w":8355,"f":-0.09},{"w":8360,"f":0.04},{"w":8365,"f":-0.02},{"w":8372,"f":-0.22},{"w":8377,"f":-0.01},{"w":8382,"f":-0.16},{"w":8388,"f":0.00},{"w":8393,"f":0.24},{"w":8399,"f":-0.08},{"w":8404,"f":0.05},{"w":8409,"f":-0.05},{"w":8416,"f":0.07},
      {"w":8417,"f":-0.07},{"w":8422,"f":0.26},{"w":8429,"f":0.13},{"w":8435,"f":0.13},{"w":8442,"f":-0.02},{"w":8446,"f":0.06},{"w":8452,"f":0.06},{"w":8457,"f":-0.31},{"w":8463,"f":-0.12},{"w":8468,"f":0.25},{"w":8474,"f":-0.06},{"w":8481,"f":-0.20},{"w":8487,"f":-0.39},{"w":8492,"f":-0.13},{"w":8497,"f":-0.26},{"w":8502,"f":-0.15},{"w":8507,"f":0.00},{"w":8512,"f":-0.08},{"w":8516,"f":0.04},{"w":8521,"f":0.04},{"w":8529,"f":0.17},{"w":8534,"f":-0.29},{"w":8541,"f":0.05},{"w":8546,"f":-0.05},{"w":8551,"f":0.02},{"w":8556,"f":-0.15},{"w":8561,"f":0.02},{"w":8567,"f":-0.01},{"w":8574,"f":-0.16},{"w":8579,"f":0.08},{"w":8583,"f":-0.02},{"w":8590,"f":0.18},{"w":8595,"f":-0.04},{"w":8600,"f":-0.05},{"w":8605,"f":0.05},{"w":8610,"f":-0.07},{"w":8616,"f":0.33},{"w":8623,"f":0.04},{"w":8627,"f":0.13},{"w":8631,"f":0.37},{"w":8636,"f":0.17},{"w":8640,"f":0.32},{"w":8645,"f":-0.07},{"w":8651,"f":-0.17},{"w":8655,"f":-0.01},{"w":8660,"f":-0.13},{"w":8667,"f":0.32},{"w":8674,"f":-0.10},{"w":8680,"f":0.14},{"w":8685,"f":-0.07},{"w":8690,"f":0.03},{"w":8694,"f":0.00},{"w":8699,"f":-0.19},{"w":8704,"f":-0.02},{"w":8709,"f":0.02},{"w":8714,"f":-0.01},{"w":8719,"f":0.06},{"w":8724,"f":-0.02},{"w":8729,"f":0.00},{"w":8734,"f":-0.06},{"w":8739,"f":0.09},{"w":8743,"f":-0.05},{"w":8747,"f":0.01},{"w":8751,"f":0.32},{"w":8756,"f":0.02},{"w":8762,"f":-0.13},{"w":8766,"f":-0.15},{"w":8771,"f":-0.27},{"w":8776,"f":0.00},{"w":8783,"f":0.25},{"w":8788,"f":-0.01},{"w":8794,"f":-0.12},{"w":8799,"f":0.09},{"w":8803,"f":-0.04},{"w":8807,"f":-0.07},{"w":8811,"f":0.14},{"w":8816,"f":-0.39},{"w":8822,"f":0.40},{"w":8826,"f":0.25},{"w":8830,"f":0.62},{"w":8835,"f":-0.06},{"w":8840,"f":-0.02},{"w":8845,"f":-0.15},{"w":8848,"f":0.22},{"w":8853,"f":-0.10},{"w":8860,"f":-0.13},{"w":8864,"f":0.07},{"w":8869,"f":0.08},{"w":8874,"f":-0.23},{"w":8880,"f":0.34},{"w":8886,"f":0.00},{"w":8889,"f":-0.13},{"w":8893,"f":0.20},{"w":8898,"f":0.54},{"w":8903,"f":0.16},{"w":8908,"f":0.08},{"w":8913,"f":0.41},{"w":8918,"f":0.05},{"w":8923,"f":0.09},{"w":8929,"f":0.04},{"w":8936,"f":0.23},{"w":8941,"f":0.04},{"w":8946,"f":-0.12},{"w":8952,"f":0.00},{"w":8959,"f":0.19},{"w":8964,"f":0.01},{"w":8970,"f":-0.02},{"w":8977,"f":-0.20},{"w":8982,"f":0.09},{"w":8986,"f":0.01},{"w":8991,"f":0.31},{"w":8997,"f":0.07},{"w":9001,"f":-0.09},{"w":9008,"f":0.11},{"w":9013,"f":0.01},{"w":9017,"f":0.02},{"w":9023,"f":0.11},{"w":9027,"f":-0.03},{"w":9032,"f":0.07},{"w":9037,"f":-0.11},{"w":9042,"f":0.36},{"w":9047,"f":0.18},{"w":9051,"f":-0.12},{"w":9057,"f":0.19},{"w":9062,"f":-0.06},{"w":9067,"f":0.07},{"w":9072,"f":-0.13},{"w":9078,"f":0.00},{"w":9083,"f":0.26},{"w":9088,"f":-0.10},{"w":9093,"f":-0.04},{"w":9097,"f":-0.39},{"w":9102,"f":-0.08},{"w":9108,"f":-0.08},{"w":9112,"f":-0.04},{"w":9119,"f":-0.11},{"w":9123,"f":-0.04},{"w":9128,"f":0.28},{"w":9134,"f":0.00},{"w":9138,"f":-0.16},{"w":9143,"f":0.00},{"w":9149,"f":0.28},{"w":9155,"f":-0.17},{"w":9160,"f":-0.02},{"w":9164,"f":0.02},{"w":9169,"f":-0.17},{"w":9174,"f":-0.01},{"w":9179,"f":-0.04},{"w":9184,"f":-0.11},{"w":9190,"f":-0.09},{"w":9196,"f":-0.14},{"w":9200,"f":0.03},{"w":9207,"f":-0.06},{"w":9212,"f":0.06},{"w":9219,"f":0.18},{"w":9225,"f":-0.02},{"w":9232,"f":-0.16},{"w":9238,"f":0.31},{"w":9245,"f":-0.11},{"w":9251,"f":-0.22},{"w":9256,"f":-0.01},{"w":9260,"f":-0.22},{"w":9266,"f":-0.17},{"w":9271,"f":0.17},{"w":9277,"f":-0.31},{"w":9284,"f":0.39},{"w":9288,"f":-0.05},{"w":9293,"f":0.10},{"w":9298,"f":-0.05}
    ]
  },
  "encoding": {
    "x": {
      "field": "w",
      "type": "quantitative",
      "scale": {"domain": [4747, 9301], "nice": false, "zero": false},
      "axis": {
        "values": [5000, 6000, 7000, 8000, 9000],
        "format": "d",
        "labelFontSize": 28,
        "labelPadding": 10,
        "title": "Wavelength",
        "titleFontSize": 33,
        "titlePadding": 4
      }
    },
    "y": {
      "field": "f",
      "type": "quantitative",
      "scale": {"domain": [-0.528, 0.672], "nice": false, "zero": false},
      "axis": {
        "values": [-0.4, -0.2, 0, 0.2, 0.4, 0.6],
        "format": ".1f",
        "labelFontSize": 34,
        "labelPadding": 17,
        "title": "10⁻¹⁸ erg s⁻¹ cm⁻² Å⁻¹",
        "titleFontSize": 48,
        "titlePadding": 20
      }
    }
  },
  "layer": [
    {
      "data": {"name": "model"},
      "mark": {"type": "line", "color": "#008000", "strokeWidth": 1.5, "strokeJoin": "round", "clip": true}
    },
    {
      "data": {"name": "zero"},
      "mark": {"type": "line", "color": "#0000ff", "strokeWidth": 5, "clip": true}
    },
    {
      "data": {"name": "spec"},
      "mark": {"type": "line", "color": "black", "strokeWidth": 4.5, "strokeJoin": "round", "clip": true}
    }
  ],
  "config": {
    "font": "DejaVu Sans",
    "view": {"stroke": "black", "strokeWidth": 3},
    "axis": {
      "grid": false,
      "domain": false,
      "ticks": true,
      "tickColor": "black",
      "tickWidth": 2.5,
      "tickSize": 14,
      "labelColor": "black",
      "titleColor": "black",
      "labelFont": "DejaVu Sans",
      "titleFont": "DejaVu Sans",
      "titleFontWeight": "normal"
    }
  }
}
